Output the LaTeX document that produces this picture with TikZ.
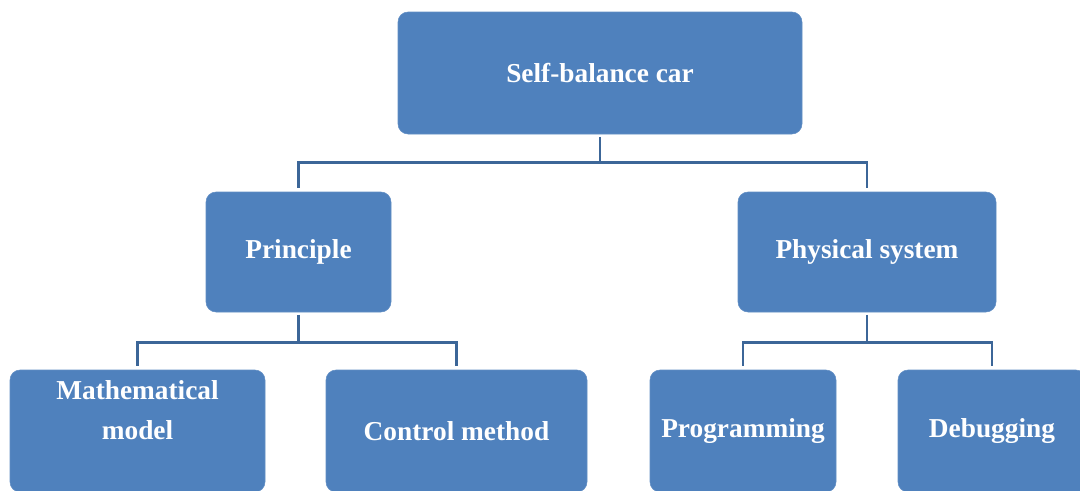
\documentclass[tikz,border=0pt]{standalone}
\usepackage{fontspec}
\setmainfont{Liberation Serif}
\definecolor{boxblue}{HTML}{4F81BD}
\definecolor{linkblue}{HTML}{3C6698}
\begin{document}
\begin{tikzpicture}[x=0.75pt,y=-0.75pt,
  every node/.style={font=\fontsize{20.5}{30}\selectfont\bfseries},
  tbox/.style={fill=boxblue,draw=boxblue!90!white,rounded corners=7.5pt,text=white,align=center,inner sep=0pt},
  link/.style={draw=linkblue,line width=2.2pt,shorten <=2pt,shorten >=3pt}]
  \useasboundingbox (0,0) rectangle (1080,490);
  \clip (0,0) rectangle (1080,490);
  % top level
  \node[tbox,minimum width=303pt,minimum height=91.5pt] (car) at (600,73) {Self-balance car};
  % second level
  \node[tbox,minimum width=138.75pt,minimum height=90pt] (prin) at (298.5,252) {Principle};
  \node[tbox,minimum width=193.5pt,minimum height=90pt] (phys) at (867,252) {Physical system};
  % third level
  \node[tbox,minimum width=191.25pt,minimum height=91.5pt] (math) at (137.5,431) {};
  \node[text=white,align=center] (mathtext) at (137.5,410) {Mathematical\\model};
  \node[tbox,minimum width=195.75pt,minimum height=91.5pt] (ctrl) at (456.5,431) {Control method};
  \node[tbox,minimum width=139.5pt,minimum height=91.5pt] (prog) at (743,431) {Programming};
  \node[tbox,minimum width=141pt,minimum height=91.5pt] (debug) at (992,431) {Debugging};
  % connectors
  \draw[link] (car.south) -- ++(0,28) -| (prin.north);
  \draw[link] (car.south) -- ++(0,28) -| (phys.north);
  \draw[link] (prin.south) -- ++(0,30) -| (math.north);
  \draw[link] (prin.south) -- ++(0,30) -| (ctrl.north);
  \draw[link] (phys.south) -- ++(0,30) -| (prog.north);
  \draw[link] (phys.south) -- ++(0,30) -| (debug.north);
\end{tikzpicture}
\end{document}
